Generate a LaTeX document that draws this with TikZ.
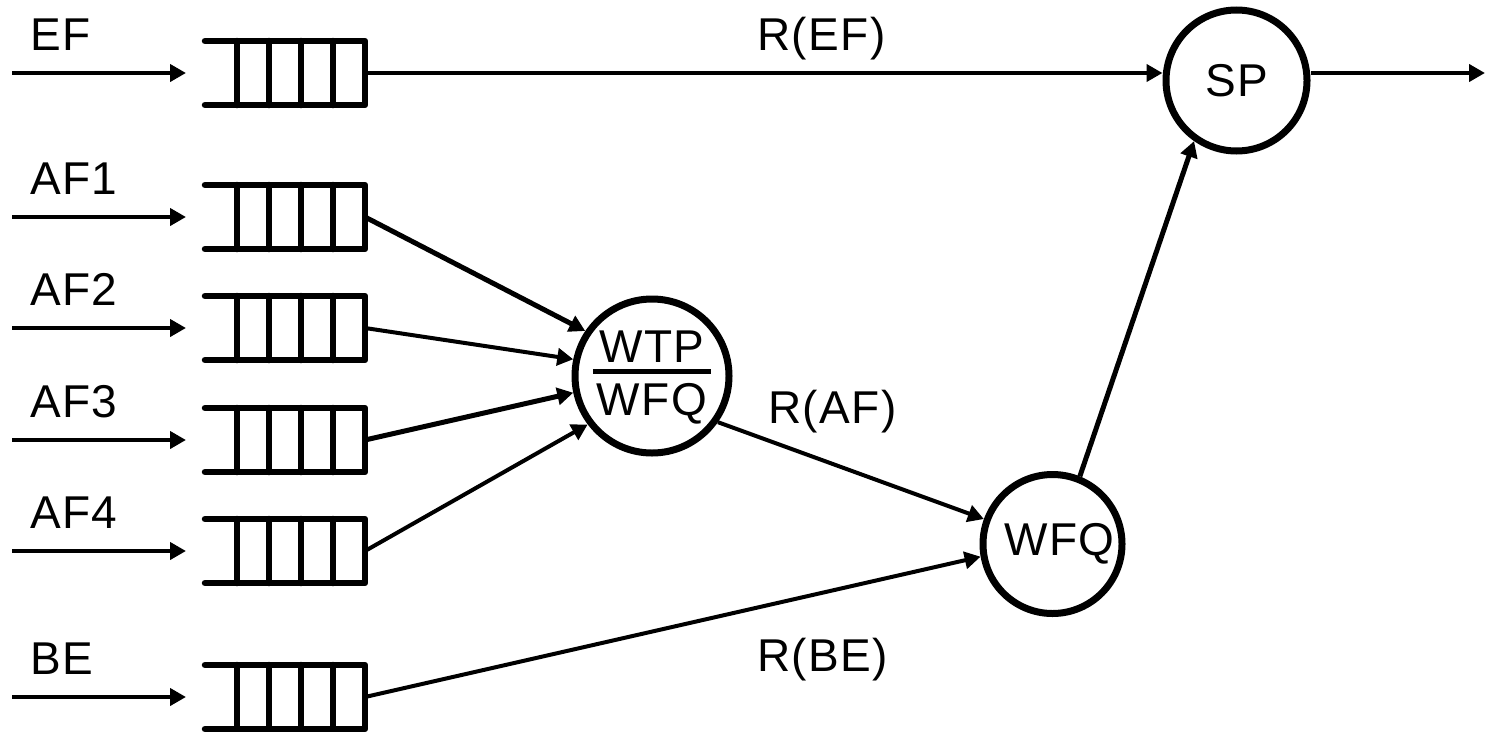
\documentclass[tikz,border=0pt]{standalone}
\usepackage{fontspec}
\setmainfont{Liberation Sans}[LetterSpace=3]
\usetikzlibrary{arrows.meta,calc}

\begin{document}
\begin{tikzpicture}[x=1pt, y=-1pt, font=\fontsize{46}{52}\selectfont,
    >={Triangle[length=16pt,width=17pt]}]
  \tikzstyle{queues}=[minimum width=160pt, minimum height=64pt, inner sep=0pt, outer sep=0pt]
  \tikzstyle{qline}=[line width=6.5pt, line cap=round, line join=round]
  \tikzstyle{scheds}=[draw, circle, line width=7pt, inner sep=0pt]
  \tikzstyle{flow}=[line width=4pt, ->]
  \tikzstyle{flowthick}=[line width=5pt, ->]
  \useasboundingbox (0,0) rectangle (1490,731);

  % Queues, each fed by an incoming arrow
  \foreach \y/\name/\txt in {73/ef/EF, 217/af1/AF1, 328/af2/AF2, 440/af3/AF3, 551/af4/AF4, 697/be/BE} {
    \node[queues] (q\name) at (285,\y) {};
    \coordinate (in\name) at (12,\y);
    \node[anchor=base west, inner sep=0pt] (l\name) at (30,\y-23) {\txt};
    \draw[qline] (q\name.north west) -- (q\name.north east) -- (q\name.south east) -- (q\name.south west);
    \foreach \i in {1,...,4}
      \draw[qline] ($(q\name.north west)!\i/5!(q\name.north east)$) -- ($(q\name.south west)!\i/5!(q\name.south east)$);
    \draw[flow, shorten >=19pt] (in\name) -- (q\name.west);
  }

  % Schedulers
  \node[scheds, minimum size=154pt] (wtp) at (652,376) {%
    \renewcommand\arraystretch{0}\setlength\arrayrulewidth{5pt}%
    \begin{tabular}{@{\hspace{4pt}}c@{\hspace{4pt}}}
      \rule[-7pt]{0pt}{41pt}WTP\\ \hline
      \rule{0pt}{41pt}WFQ
    \end{tabular}};
  \node[scheds, minimum size=139pt] (wfq) at (1052.5,544) {\hspace{14pt}WFQ};
  \node[scheds, minimum size=141pt] (sp) at (1236.5,80.5) {SP};
  \coordinate (out) at (1485,73);

  % Rates
  \node[anchor=base west, inner sep=0pt] (ref) at (757,50) {R(EF)};
  \node[anchor=base west, inner sep=0pt] (raf) at (768,423) {R(AF)};
  \node[anchor=base west, inner sep=0pt] (rbe) at (757,671) {R(BE)};

  \draw[flow] (qef.east) -- (qef.east -| sp.west);
  \draw[flowthick] (qaf1.east) -- (wtp.146);
  \draw[flow] (qaf2.east) -- (wtp.168);
  \draw[flowthick] (qaf3.east) -- (wtp.192);
  \draw[flow] (qaf4.east) -- (wtp.217);
  \draw[flow] (wtp.-35) -- (wfq.160);
  \draw[flow] (qbe.east) -- (wfq.190);
  \draw[flowthick] (wfq.68) -- (sp.235);
  \draw[flow] (sp.east |- out) -- (out);
\end{tikzpicture}
\end{document}
